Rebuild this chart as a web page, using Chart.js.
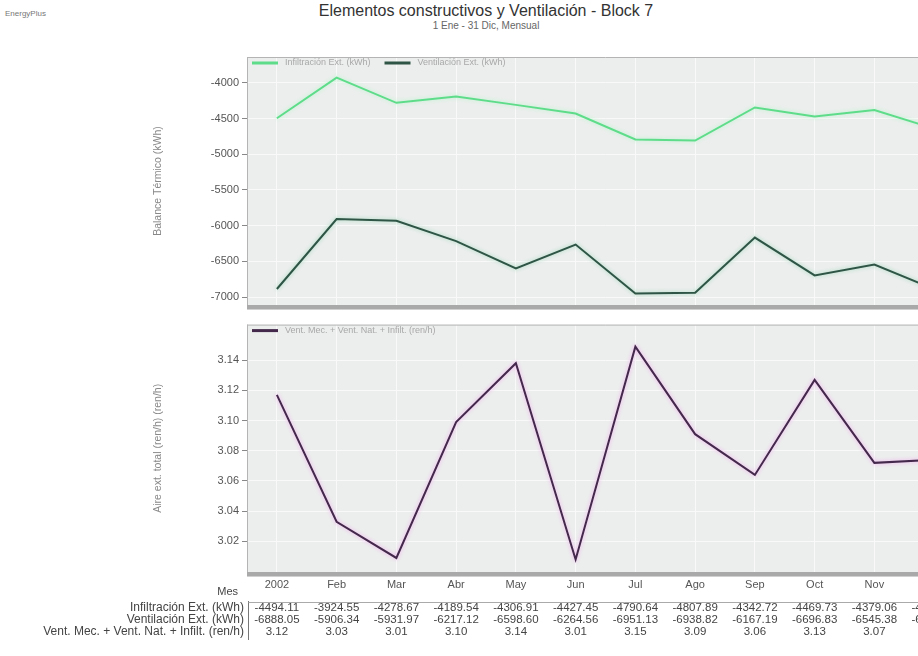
<!DOCTYPE html>
<html>
<head>
<meta charset="utf-8">
<script src="https://cdn.jsdelivr.net/npm/chart.js@4.4.1/dist/chart.umd.min.js"></script>
<style>
  html, body { margin: 0; padding: 0; background: #fff; overflow: hidden; width: 918px; height: 656px; }
  body { position: relative; font-family: "Liberation Sans", Arial, sans-serif; }
  #brand { position: absolute; left: 5px; top: 9px; font-size: 8px; color: #777; }
  #title { position: absolute; left: 0; width: 972px; top: 2px; text-align: center; font-size: 16px; color: #333; }
  #subtitle { position: absolute; left: 0; width: 972px; top: 20px; text-align: center; font-size: 10px; color: #666; }
  canvas { position: absolute; left: 0; }
  #top { top: 40px; }
  #bottom { top: 315px; }
</style>
</head>
<body>
<div id="brand">EnergyPlus</div>
<div id="title">Elementos constructivos y Ventilación - Block 7</div>
<div id="subtitle">1 Ene - 31 Dic, Mensual</div>
<canvas id="top" width="1000" height="275"></canvas>
<canvas id="bottom" width="1000" height="341"></canvas>
<script>
// months on the x axis
const months = ['2002', 'Feb', 'Mar', 'Abr', 'May', 'Jun', 'Jul', 'Ago', 'Sep', 'Oct', 'Nov', 'Dic'];

// series (kWh and ren/h)
const infiltracion = [-4494.11, -3924.55, -4278.67, -4189.54, -4306.91, -4427.45, -4790.64, -4807.89, -4342.72, -4469.73, -4379.06, -4640.20];
const ventilacion = [-6888.05, -5906.34, -5931.97, -6217.12, -6598.60, -6264.56, -6951.13, -6938.82, -6167.19, -6696.83, -6545.38, -6890.40];
const renh = [3.117, 3.033, 3.009, 3.099, 3.138, 3.008, 3.149, 3.091, 3.064, 3.127, 3.072, 3.074];

// tick labels
const topTicks = [-4000, -4500, -5000, -5500, -6000, -6500, -7000];
const bottomTicks = [3.02, 3.04, 3.06, 3.08, 3.10, 3.12, 3.14];

const FONT = '"Liberation Sans", Arial, sans-serif';
Chart.defaults.font.family = FONT;
Chart.defaults.animation = false;

// plot background, frame, shadow bar, legend and line glow
const plotDeco = {
  id: 'plotDeco',
  beforeDraw(chart) {
    const { ctx, chartArea: a } = chart;
    ctx.save();
    ctx.fillStyle = '#eceeed';
    ctx.fillRect(a.left, a.top, a.right - a.left, a.bottom - a.top);
    ctx.restore();
  },
  beforeDatasetDraw(chart, args) {
    const ds = chart.data.datasets[args.index];
    chart.ctx.save();
    chart.ctx.shadowColor = ds.glow;
    chart.ctx.shadowBlur = 4;
  },
  afterDatasetDraw(chart) {
    chart.ctx.restore();
  },
  afterDraw(chart) {
    const { ctx, chartArea: a } = chart;
    ctx.save();
    ctx.strokeStyle = '#b4b4b4';
    ctx.lineWidth = 1;
    ctx.beginPath();
    ctx.moveTo(a.left, a.top + 0.5);
    ctx.lineTo(a.right, a.top + 0.5);
    ctx.moveTo(a.left + 0.5, a.top);
    ctx.lineTo(a.left + 0.5, a.bottom);
    ctx.stroke();
    // thick grey bar under the plot
    ctx.fillStyle = '#a9a9a9';
    ctx.fillRect(a.left, a.bottom, a.right - a.left, 5);
    ctx.fillStyle = '#d0d0d0';
    ctx.fillRect(a.left, a.bottom + 4, a.right - a.left, 1);

    // legend inside the plot
    let x = a.left + 5;
    const y = a.top + 6;
    ctx.font = '9px ' + FONT;
    ctx.textBaseline = 'middle';
    chart.data.datasets.forEach(ds => {
      ctx.strokeStyle = ds.borderColor;
      ctx.lineWidth = 3;
      ctx.beginPath();
      ctx.moveTo(x, y);
      ctx.lineTo(x + 26, y);
      ctx.stroke();
      ctx.fillStyle = '#a8a8a8';
      ctx.fillText(ds.label, x + 33, y);
      x += 33 + ctx.measureText(ds.label).width + 14;
    });
    ctx.restore();
  }
};

// data table under the bottom chart
const dataTable = {
  id: 'dataTable',
  afterDraw(chart) {
    const { ctx } = chart;
    const xs = chart.scales.x;
    const rows = [
      ['Infiltración Ext. (kWh)', infiltracion.map(v => v.toFixed(2))],
      ['Ventilación Ext. (kWh)', ventilacion.map(v => v.toFixed(2))],
      ['Vent. Mec. + Vent. Nat. + Infilt. (ren/h)', renh.map(v => v.toFixed(2))]
    ];
    ctx.save();
    ctx.fillStyle = '#444';
    ctx.textBaseline = 'middle';
    ctx.textAlign = 'right';
    ctx.font = '11px ' + FONT;
    ctx.fillText('Mes', 238, 277);
    const lineX = 248.5;
    ctx.strokeStyle = '#777';
    ctx.lineWidth = 1;
    ctx.beginPath();
    ctx.moveTo(lineX, 286);
    ctx.lineTo(lineX, 325);
    ctx.stroke();
    ctx.strokeStyle = '#aaa';
    ctx.beginPath();
    ctx.moveTo(lineX, 287.5);
    ctx.lineTo(1000, 287.5);
    ctx.stroke();
    rows.forEach((r, i) => {
      const y = 293 + i * 12;
      ctx.textAlign = 'right';
      ctx.font = '12px ' + FONT;
      ctx.fillText(r[0], 244, y);
      ctx.textAlign = 'center';
      ctx.font = '11.5px ' + FONT;
      r[1].forEach((t, j) => ctx.fillText(t, xs.getPixelForValue(j), y));
    });
    ctx.restore();
  }
};

function fixTicks(list) {
  return scale => { scale.ticks = list.map(v => ({ value: v })); };
}

const gridCol = '#f8f9f8';

new Chart(document.getElementById('top'), {
  type: 'line',
  data: {
    labels: months,
    datasets: [
      { label: 'Infiltración Ext. (kWh)', data: infiltracion, borderColor: '#5fdc8a', glow: '#b5f5cb', borderWidth: 2, pointRadius: 0, tension: 0 },
      { label: 'Ventilación Ext. (kWh)', data: ventilacion, borderColor: '#2e5545', glow: '#9fd8bd', borderWidth: 2, pointRadius: 0, tension: 0 }
    ]
  },
  options: {
    responsive: false,
    layout: { padding: { left: 152, right: 36, top: 17, bottom: 10 } },
    plugins: { legend: { display: false }, tooltip: { enabled: false } },
    scales: {
      x: {
        offset: true,
        grid: { color: gridCol, drawTicks: false, offset: false },
        border: { display: false },
        ticks: { display: false },
        afterFit: s => { s.height = 0; }
      },
      y: {
        min: -7112, max: -3636,
        afterBuildTicks: fixTicks(topTicks),
        afterFit: s => { s.width = 95; },
        grid: { color: gridCol, tickColor: '#888', tickLength: 5 },
        border: { display: false },
        ticks: { color: '#555', font: { size: 11 }, padding: 3, callback: v => String(v) },
        title: { display: true, text: 'Balance Térmico (kWh)', color: '#888', font: { size: 10.5 }, padding: 0 }
      }
    }
  },
  plugins: [plotDeco]
});

new Chart(document.getElementById('bottom'), {
  type: 'line',
  data: {
    labels: months,
    datasets: [
      { label: 'Vent. Mec. + Vent. Nat. + Infilt. (ren/h)', data: renh, borderColor: '#45294c', glow: '#f0a8f0', borderWidth: 2, pointRadius: 0, tension: 0 }
    ]
  },
  options: {
    responsive: false,
    layout: { padding: { left: 152, right: 36, top: 7, bottom: 0 } },
    plugins: { legend: { display: false }, tooltip: { enabled: false } },
    scales: {
      x: {
        offset: true,
        grid: { color: gridCol, drawTicks: false, offset: false },
        border: { display: false },
        ticks: { color: '#555', font: { size: 11 }, padding: 6, maxRotation: 0, autoSkip: false },
        afterFit: s => { s.height = 84; }
      },
      y: {
        min: 2.9997, max: 3.1636,
        afterBuildTicks: fixTicks(bottomTicks),
        afterFit: s => { s.width = 95; },
        grid: { color: gridCol, tickColor: '#888', tickLength: 5 },
        border: { display: false },
        ticks: { color: '#555', font: { size: 11 }, padding: 3, callback: v => v.toFixed(2) },
        title: { display: true, text: 'Aire ext. total (ren/h) (ren/h)', color: '#888', font: { size: 10.5 }, padding: 0 }
      }
    }
  },
  plugins: [plotDeco, dataTable]
});
</script>
</body>
</html>
